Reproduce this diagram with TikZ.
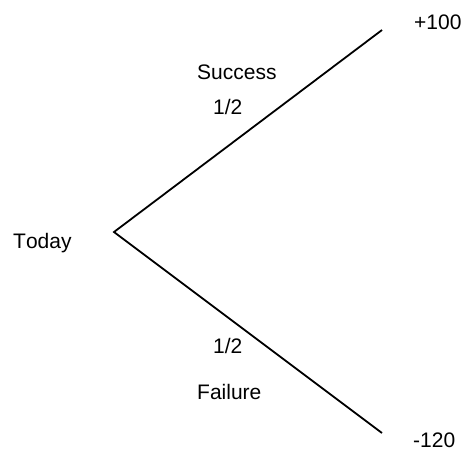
\documentclass[tikz,border=0pt]{standalone}
\usepackage{fontspec}
\setmainfont{Liberation Sans}[Kerning=Off]
\begin{document}
\begin{tikzpicture}[x=1pt,y=-1pt,
  lbl/.style={anchor=base west,inner sep=0pt,font=\fontsize{21}{25}\selectfont},
  branch/.style={line width=1.8pt}]
\useasboundingbox (0,0) rectangle (466,450);
\coordinate (root) at (114,232);
\coordinate (up) at (382,30);
\coordinate (down) at (382,433);
\draw[branch] (up) -- (root) -- (down);
\node[lbl] (today) at (13,248) {Today};
\node[lbl] (success) at (197,79) {Success};
\node[lbl] (pu) at (213,114) {1/2};
\node[lbl] (pd) at (213,353) {1/2};
\node[lbl] (failure) at (197,399) {Failure};
\node[lbl] (plus) at (414,29) {+100};
\node[lbl] (minus) at (413,447) {-120};
\end{tikzpicture}
\end{document}
